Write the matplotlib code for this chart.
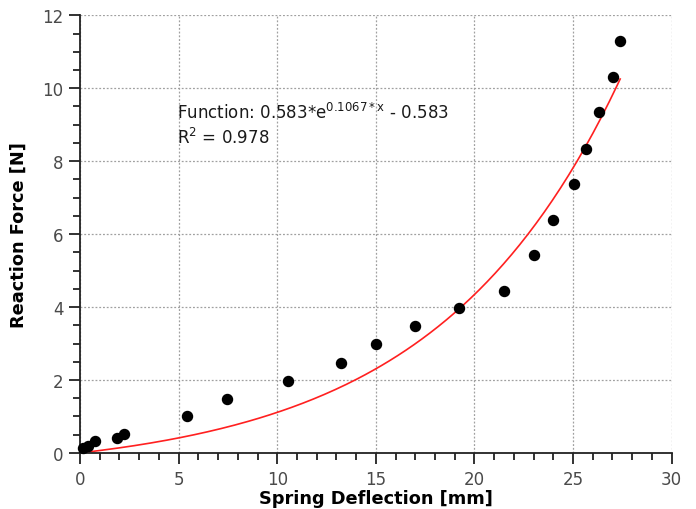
import matplotlib
matplotlib.use("Agg")
import matplotlib.pyplot as plt
import numpy as np
from matplotlib.ticker import MultipleLocator

# measured points
deflection = [0.15, 0.4, 0.76, 1.88, 2.23, 5.44, 7.47, 10.56, 13.21, 15.0,
              16.98, 19.22, 21.5, 23.03, 23.99, 25.04, 25.65, 26.34, 27.02, 27.39]
force = [0.14, 0.19, 0.33, 0.41, 0.52, 1.0, 1.49, 1.97, 2.46, 2.99,
         3.48, 3.96, 4.45, 5.42, 6.39, 7.37, 8.33, 9.34, 10.32, 11.29]

# exponential fit parameters
fit_a = 0.583
fit_b = 0.1067
r_squared = 0.978

fig = plt.figure(figsize=(6.96, 5.10), dpi=100)
ax = fig.add_axes([0.115, 0.11, 0.85, 0.858])

x_fit = np.linspace(0, max(deflection), 200)
y_fit = fit_a * np.exp(fit_b * x_fit) - fit_a
ax.plot(x_fit, y_fit, color='#ff2020', lw=1.2, zorder=2)

ax.scatter(deflection, force, s=52, color='black', zorder=3, clip_on=False)

ax.text(4.9, 9.34, r'Function: %.3f*e$^{\mathregular{%.4f*x}}$ - %.3f' % (fit_a, fit_b, fit_a),
        fontsize=12, va='center', color='#1a1a1a')
ax.text(4.9, 8.66, 'R$^2$ = %.3f' % r_squared, fontsize=12, va='center', color='#1a1a1a')

ax.set_xlim(0, 30)
ax.set_ylim(0, 12)
ax.xaxis.set_major_locator(MultipleLocator(5))
ax.xaxis.set_minor_locator(MultipleLocator(1))
ax.yaxis.set_major_locator(MultipleLocator(2))
ax.yaxis.set_minor_locator(MultipleLocator(0.5))

ax.spines['top'].set_visible(False)
ax.spines['right'].set_visible(False)
for s in ['left', 'bottom']:
    ax.spines[s].set_linewidth(1.3)
    ax.spines[s].set_color('#222222')

ax.tick_params(which='major', direction='out', length=8, width=1.3, color='#222222',
               labelsize=12, labelcolor='#4a4a4a', pad=4)
ax.tick_params(which='minor', direction='out', length=5, width=1.3, color='#222222')

ax.grid(True, which='major', linestyle=(0, (1.5, 1.5)), color='#a0a0a0', lw=0.9)
ax.set_axisbelow(True)

ax.set_xlabel('Spring Deflection [mm]', fontsize=12.8, fontweight='bold', labelpad=1)
ax.set_ylabel('Reaction Force [N]', fontsize=12.8, fontweight='bold', labelpad=10)

fig.savefig('out.png', dpi=100)
